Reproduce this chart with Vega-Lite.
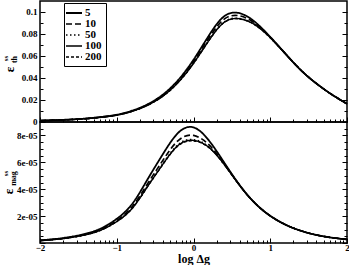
{
"$schema": "https://vega.github.io/schema/vega-lite/v6.json",
"autosize": {"type": "pad"},
"padding": {"left": 0, "top": 0, "right": 2, "bottom": 0},
"spacing": 0,
"bounds": "flush",
"config": {
 "view": {"stroke": "black", "strokeWidth": 1.5},
 "axis": {"labelFont": "Liberation Serif", "labelFontWeight": "bold", "labelFontSize": 9, "labelColor": "black", "titleFont": "Liberation Serif", "titleFontWeight": "bold", "titleColor": "black", "tickColor": "black", "tickWidth": 1, "domain": false, "grid": false, "labelOverlap": false, "labelFlush": false, "labelBound": false},
 "legend": {"orient": "none", "legendX": 24, "legendY": 2, "strokeColor": "black", "fillColor": "white", "padding": 4, "labelFont": "Liberation Serif", "labelFontWeight": "bold", "labelFontSize": 11, "labelColor": "black", "symbolType": "M-1.6,0H1.6", "symbolSize": 100, "symbolStrokeColor": "black", "rowPadding": -0.7, "labelOffset": 5}
},
"data": {"values": [
{"x":-2,"n":"5","eth":0.0012,"emag":2.0e-6},{"x":-2,"n":"10","eth":0.00117,"emag":1.86e-6},{"x":-2,"n":"50","eth":0.00114,"emag":1.79e-6},{"x":-2,"n":"100","eth":0.00113,"emag":1.77e-6},{"x":-2,"n":"200","eth":0.00113,"emag":1.77e-6},
{"x":-1.8,"n":"5","eth":0.0016,"emag":3.0e-6},{"x":-1.8,"n":"10","eth":0.00156,"emag":2.79e-6},{"x":-1.8,"n":"50","eth":0.00151,"emag":2.68e-6},{"x":-1.8,"n":"100","eth":0.00151,"emag":2.66e-6},{"x":-1.8,"n":"200","eth":0.00151,"emag":2.65e-6},
{"x":-1.6,"n":"5","eth":0.0022,"emag":4.6e-6},{"x":-1.6,"n":"10","eth":0.00214,"emag":4.28e-6},{"x":-1.6,"n":"50","eth":0.00208,"emag":4.11e-6},{"x":-1.6,"n":"100","eth":0.00207,"emag":4.08e-6},{"x":-1.6,"n":"200","eth":0.00207,"emag":4.06e-6},
{"x":-1.4,"n":"5","eth":0.0031,"emag":7.0e-6},{"x":-1.4,"n":"10","eth":0.00302,"emag":6.51e-6},{"x":-1.4,"n":"50","eth":0.00293,"emag":6.26e-6},{"x":-1.4,"n":"100","eth":0.00292,"emag":6.21e-6},{"x":-1.4,"n":"200","eth":0.00292,"emag":6.18e-6},
{"x":-1.2,"n":"5","eth":0.0045,"emag":1.1e-5},{"x":-1.2,"n":"10","eth":0.00438,"emag":1.023e-5},{"x":-1.2,"n":"50","eth":0.00426,"emag":9.83e-6},{"x":-1.2,"n":"100","eth":0.00424,"emag":9.76e-6},{"x":-1.2,"n":"200","eth":0.00423,"emag":9.71e-6},
{"x":-1.0,"n":"5","eth":0.0065,"emag":1.8e-5},{"x":-1.0,"n":"10","eth":0.00632,"emag":1.674e-5},{"x":-1.0,"n":"50","eth":0.00615,"emag":1.609e-5},{"x":-1.0,"n":"100","eth":0.00613,"emag":1.597e-5},{"x":-1.0,"n":"200","eth":0.00612,"emag":1.589e-5},
{"x":-0.8,"n":"5","eth":0.0102,"emag":2.9e-5},{"x":-0.8,"n":"10","eth":0.00992,"emag":2.697e-5},{"x":-0.8,"n":"50","eth":0.00965,"emag":2.593e-5},{"x":-0.8,"n":"100","eth":0.00962,"emag":2.572e-5},{"x":-0.8,"n":"200","eth":0.0096,"emag":2.561e-5},
{"x":-0.6,"n":"5","eth":0.016,"emag":4.72e-5},{"x":-0.6,"n":"10","eth":0.01557,"emag":4.39e-5},{"x":-0.6,"n":"50","eth":0.01514,"emag":4.22e-5},{"x":-0.6,"n":"100","eth":0.01509,"emag":4.19e-5},{"x":-0.6,"n":"200","eth":0.01506,"emag":4.17e-5},
{"x":-0.4,"n":"5","eth":0.0248,"emag":6.6e-5},{"x":-0.4,"n":"10","eth":0.02413,"emag":6.14e-5},{"x":-0.4,"n":"50","eth":0.02346,"emag":5.9e-5},{"x":-0.4,"n":"100","eth":0.02339,"emag":5.85e-5},{"x":-0.4,"n":"200","eth":0.02334,"emag":5.83e-5},
{"x":-0.2,"n":"5","eth":0.0381,"emag":8.19e-5},{"x":-0.2,"n":"10","eth":0.03707,"emag":7.62e-5},{"x":-0.2,"n":"50","eth":0.03604,"emag":7.32e-5},{"x":-0.2,"n":"100","eth":0.03593,"emag":7.26e-5},{"x":-0.2,"n":"200","eth":0.03585,"emag":7.23e-5},
{"x":0,"n":"5","eth":0.0565,"emag":8.6e-5},{"x":0,"n":"10","eth":0.05497,"emag":8.0e-5},{"x":0,"n":"50","eth":0.05345,"emag":7.69e-5},{"x":0,"n":"100","eth":0.05328,"emag":7.63e-5},{"x":0,"n":"200","eth":0.05317,"emag":7.59e-5},
{"x":0.2,"n":"5","eth":0.0785,"emag":7.63e-5},{"x":0.2,"n":"10","eth":0.07638,"emag":7.31e-5},{"x":0.2,"n":"50","eth":0.07426,"emag":7.14e-5},{"x":0.2,"n":"100","eth":0.07403,"emag":7.11e-5},{"x":0.2,"n":"200","eth":0.07387,"emag":7.1e-5},
{"x":0.4,"n":"5","eth":0.0961,"emag":5.98e-5},{"x":0.4,"n":"10","eth":0.09351,"emag":5.9e-5},{"x":0.4,"n":"50","eth":0.09091,"emag":5.85e-5},{"x":0.4,"n":"100","eth":0.09062,"emag":5.84e-5},{"x":0.4,"n":"200","eth":0.09043,"emag":5.84e-5},
{"x":0.6,"n":"5","eth":0.0989,"emag":4.32e-5},{"x":0.6,"n":"10","eth":0.0965,"emag":4.3e-5},{"x":0.6,"n":"50","eth":0.09409,"emag":4.3e-5},{"x":0.6,"n":"100","eth":0.09383,"emag":4.29e-5},{"x":0.6,"n":"200","eth":0.09365,"emag":4.29e-5},
{"x":0.8,"n":"5","eth":0.091,"emag":2.97e-5},{"x":0.8,"n":"10","eth":0.08977,"emag":2.97e-5},{"x":0.8,"n":"50","eth":0.08854,"emag":2.97e-5},{"x":0.8,"n":"100","eth":0.08841,"emag":2.97e-5},{"x":0.8,"n":"200","eth":0.08832,"emag":2.97e-5},
{"x":1.0,"n":"5","eth":0.0773,"emag":2.02e-5},{"x":1.0,"n":"10","eth":0.07699,"emag":2.02e-5},{"x":1.0,"n":"50","eth":0.07667,"emag":2.02e-5},{"x":1.0,"n":"100","eth":0.07664,"emag":2.02e-5},{"x":1.0,"n":"200","eth":0.07662,"emag":2.02e-5},
{"x":1.2,"n":"5","eth":0.0619,"emag":1.36e-5},{"x":1.2,"n":"10","eth":0.06185,"emag":1.36e-5},{"x":1.2,"n":"50","eth":0.0618,"emag":1.36e-5},{"x":1.2,"n":"100","eth":0.0618,"emag":1.36e-5},{"x":1.2,"n":"200","eth":0.06179,"emag":1.36e-5},
{"x":1.4,"n":"5","eth":0.047,"emag":9.1e-6},{"x":1.4,"n":"10","eth":0.047,"emag":9.1e-6},{"x":1.4,"n":"50","eth":0.047,"emag":9.1e-6},{"x":1.4,"n":"100","eth":0.047,"emag":9.1e-6},{"x":1.4,"n":"200","eth":0.047,"emag":9.1e-6},
{"x":1.6,"n":"5","eth":0.035,"emag":6.0e-6},{"x":1.6,"n":"10","eth":0.035,"emag":6.0e-6},{"x":1.6,"n":"50","eth":0.035,"emag":6.0e-6},{"x":1.6,"n":"100","eth":0.035,"emag":6.0e-6},{"x":1.6,"n":"200","eth":0.035,"emag":6.0e-6},
{"x":1.8,"n":"5","eth":0.025,"emag":4.0e-6},{"x":1.8,"n":"10","eth":0.025,"emag":4.0e-6},{"x":1.8,"n":"50","eth":0.025,"emag":4.0e-6},{"x":1.8,"n":"100","eth":0.025,"emag":4.0e-6},{"x":1.8,"n":"200","eth":0.025,"emag":4.0e-6},
{"x":2.0,"n":"5","eth":0.0165,"emag":2.7e-6},{"x":2.0,"n":"10","eth":0.0165,"emag":2.7e-6},{"x":2.0,"n":"50","eth":0.0165,"emag":2.7e-6},{"x":2.0,"n":"100","eth":0.0165,"emag":2.7e-6},{"x":2.0,"n":"200","eth":0.0165,"emag":2.7e-6}
]},
"resolve": {"scale": {"y": "independent", "strokeDash": "independent", "strokeWidth": "independent"}, "legend": {"strokeDash": "independent", "strokeWidth": "independent"}},
"vconcat": [
 {
  "width": 307, "height": 121,
  "resolve": {"axis": {"y": "independent"}},
  "layer": [
   {
    "mark": {"type": "line", "interpolate": "natural", "color": "black"},
    "encoding": {
     "x": {"field": "x", "type": "quantitative", "scale": {"domain": [-2, 2], "nice": false},
       "axis": {"orient": "bottom", "labels": false, "title": null,
         "values": [-2,-1.69897,-1.52288,-1.39794,-1.30103,-1.22185,-1.1549,-1.09691,-1.04576,-1,-0.69897,-0.52288,-0.39794,-0.30103,-0.22185,-0.1549,-0.09691,-0.04576,0,0.30103,0.47712,0.60206,0.69897,0.77815,0.8451,0.90309,0.95424,1,1.30103,1.47712,1.60206,1.69897,1.77815,1.8451,1.90309,1.95424,2],
         "tickSize": {"condition": {"test": "abs(datum.value - round(datum.value)) < 0.001", "value": -5}, "value": -3}}},
     "y": {"field": "eth", "type": "quantitative", "scale": {"domain": [-0.0001, 0.11], "nice": false, "zero": false},
       "axis": {"orient": "left", "zindex": 2, "values": [0,0.01,0.02,0.03,0.04,0.05,0.06,0.07,0.08,0.09,0.1],
         "labelExpr": "datum.value < 0.001 ? '0' : (round(datum.value*100) % 2 === 0 ? format(datum.value, '~g') : '')",
         "labelOverlap": false, "labelFlush": false, "labelBound": false,
         "tickSize": {"condition": {"test": "round(datum.value*100) % 2 === 0", "value": -5}, "value": -3},
         "labelPadding": 8,
         "title": "ε", "titleFontSize": 13, "titleX": -31, "titleY": 68, "titleAlign": "center", "titleBaseline": "middle", "titleAngle": 270}},
     "strokeDash": {"field": "n", "type": "ordinal", "scale": {"domain": ["5","10","50","100","200"], "range": [[1,0],[6,3],[1.5,2.5],[1,0],[3,2]]}, "legend": {"title": null}},
     "strokeWidth": {"field": "n", "type": "ordinal", "scale": {"domain": ["5","10","50","100","200"], "range": [1.8,1.3,1.2,0.9,1.1]}, "legend": {"title": null}}
    }
   },
   {
    "mark": {"type": "point", "opacity": 0},
    "encoding": {
     "y": {"field": "eth", "type": "quantitative", "scale": {"domain": [-0.0001, 0.11], "nice": false, "zero": false},
       "axis": {"orient": "right", "labels": false, "title": null, "values": [0,0.01,0.02,0.03,0.04,0.05,0.06,0.07,0.08,0.09,0.1],
         "tickSize": {"condition": {"test": "round(datum.value*100) % 2 === 0", "value": -5}, "value": -3}}}
    }
   },
   {
    "mark": {"type": "point", "opacity": 0},
    "encoding": {
     "y": {"field": "eth", "type": "quantitative", "scale": {"domain": [-0.0001, 0.11], "nice": false, "zero": false},
       "axis": {"orient": "left", "labels": false, "ticks": false, "values": [], "title": "th", "titleFontSize": 8, "titleX": -26, "titleY": 58, "titleAlign": "center", "titleBaseline": "middle", "titleAngle": 270}}
    }
   },
   {
    "mark": {"type": "point", "opacity": 0},
    "encoding": {
     "y": {"field": "eth", "type": "quantitative", "scale": {"domain": [-0.0001, 0.11], "nice": false, "zero": false},
       "axis": {"orient": "left", "labels": false, "ticks": false, "values": [], "title": "ss", "titleFontSize": 7, "titleX": -35, "titleY": 57, "titleAlign": "center", "titleBaseline": "middle", "titleAngle": 270}}
    }
   }
  ]
 },
 {
  "width": 307, "height": 121,
  "resolve": {"axis": {"y": "independent"}},
  "layer": [
   {
    "mark": {"type": "line", "interpolate": "natural", "color": "black"},
    "encoding": {
     "x": {"field": "x", "type": "quantitative", "scale": {"domain": [-2, 2], "nice": false},
       "axis": {"orient": "bottom", "title": "log Δg", "titleFontSize": 12, "titlePadding": -1, "labelPadding": 5,
         "values": [-2,-1.69897,-1.52288,-1.39794,-1.30103,-1.22185,-1.1549,-1.09691,-1.04576,-1,-0.69897,-0.52288,-0.39794,-0.30103,-0.22185,-0.1549,-0.09691,-0.04576,0,0.30103,0.47712,0.60206,0.69897,0.77815,0.8451,0.90309,0.95424,1,1.30103,1.47712,1.60206,1.69897,1.77815,1.8451,1.90309,1.95424,2],
         "labelExpr": "abs(datum.value - round(datum.value)) < 0.001 ? format(round(datum.value), 'd') : ''",
         "tickSize": {"condition": {"test": "abs(datum.value - round(datum.value)) < 0.001", "value": -5}, "value": -3}}},
     "y": {"field": "emag", "type": "quantitative", "scale": {"domain": [0, 9e-5], "nice": false, "zero": false},
       "axis": {"orient": "left", "values": [0,5e-6,1e-5,1.5e-5,2e-5,2.5e-5,3e-5,3.5e-5,4e-5,4.5e-5,5e-5,5.5e-5,6e-5,6.5e-5,7e-5,7.5e-5,8e-5,8.5e-5],
         "labelExpr": "(round(datum.value*1e6) % 20 === 0 && datum.value > 0) ? round(datum.value*1e5) + 'e-05' : ''",
         "tickSize": {"condition": {"test": "round(datum.value*1e6) % 20 === 0", "value": -5}, "value": -3},
         "labelPadding": 8,
         "title": "ε", "titleFontSize": 13, "titleX": -32, "titleY": 69, "titleAlign": "center", "titleBaseline": "middle", "titleAngle": 270}},
     "strokeDash": {"field": "n", "type": "ordinal", "scale": {"domain": ["5","10","50","100","200"], "range": [[1,0],[6,3],[1.5,2.5],[1,0],[3,2]]}, "legend": null},
     "strokeWidth": {"field": "n", "type": "ordinal", "scale": {"domain": ["5","10","50","100","200"], "range": [1.8,1.3,1.2,0.9,1.1]}, "legend": null}
    }
   },
   {
    "mark": {"type": "point", "opacity": 0},
    "encoding": {
     "y": {"field": "emag", "type": "quantitative", "scale": {"domain": [0, 9e-5], "nice": false, "zero": false},
       "axis": {"orient": "right", "labels": false, "title": null, "values": [0,5e-6,1e-5,1.5e-5,2e-5,2.5e-5,3e-5,3.5e-5,4e-5,4.5e-5,5e-5,5.5e-5,6e-5,6.5e-5,7e-5,7.5e-5,8e-5,8.5e-5],
         "tickSize": {"condition": {"test": "round(datum.value*1e6) % 20 === 0", "value": -5}, "value": -3}}}
    }
   },
   {
    "mark": {"type": "point", "opacity": 0},
    "encoding": {
     "y": {"field": "emag", "type": "quantitative", "scale": {"domain": [0, 9e-5], "nice": false, "zero": false},
       "axis": {"orient": "left", "labels": false, "ticks": false, "values": [], "title": "mag", "titleFontSize": 8, "titleX": -27, "titleY": 56, "titleAlign": "center", "titleBaseline": "middle", "titleAngle": 270}}
    }
   },
   {
    "mark": {"type": "point", "opacity": 0},
    "encoding": {
     "y": {"field": "emag", "type": "quantitative", "scale": {"domain": [0, 9e-5], "nice": false, "zero": false},
       "axis": {"orient": "left", "labels": false, "ticks": false, "values": [], "title": "ss", "titleFontSize": 7, "titleX": -35, "titleY": 51, "titleAlign": "center", "titleBaseline": "middle", "titleAngle": 270}}
    }
   }
  ]
 }
]
}
